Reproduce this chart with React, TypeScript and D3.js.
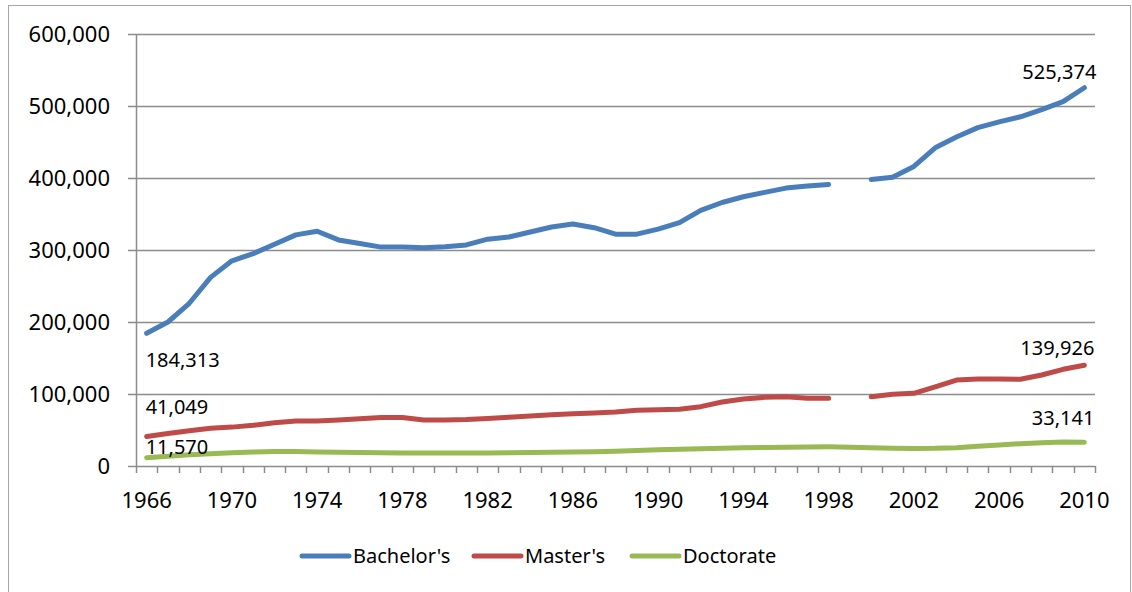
import React, { useEffect, useRef } from 'react';
import * as d3 from 'd3';

// categories (academic years)
const years = [
  1966, 1967, 1968, 1969, 1970, 1971, 1972, 1973, 1974, 1975, 1976, 1977, 1978, 1979, 1980,
  1981, 1982, 1983, 1984, 1985, 1986, 1987, 1988, 1989, 1990, 1991, 1992, 1993, 1994, 1995,
  1996, 1997, 1998, 1999, 2000, 2001, 2002, 2003, 2004, 2005, 2006, 2007, 2008, 2009, 2010,
];

const bachelors: (number | null)[] = [
  184313, 200000, 226000, 262000, 285000, 295000, 308000, 321000, 326000, 314000, 309000, 304000, 304000, 303000, 304500,
  307000, 315000, 318000, 325000, 332000, 336000, 331000, 322000, 322000, 329000, 338000, 355000, 366000, 374000, 380000,
  386000, 389000, 391000, null, 398000, 401000, 416000, 442000, 457000, 470000, 478000, 485000, 495000, 506000, 525374,
];

const masters: (number | null)[] = [
  41049, 45000, 49000, 52500, 54000, 56500, 60000, 62500, 62500, 64000, 65500, 67500, 67500, 64000, 64000,
  64500, 66000, 67600, 69500, 71300, 72700, 73600, 75000, 77300, 78200, 78700, 82400, 88900, 93000, 95400,
  96300, 94000, 94000, null, 96300, 99500, 100900, 110000, 119400, 120800, 120800, 120400, 126400, 134300, 139926,
];

const doctorates: (number | null)[] = [
  11570, 13500, 15500, 17000, 18500, 19500, 20000, 20000, 19500, 19000, 18800, 18500, 18200, 18000, 18000,
  18000, 18200, 18400, 18700, 19000, 19300, 19700, 20500, 21500, 22500, 23300, 24000, 24600, 25200, 25800,
  26200, 26500, 26600, 26200, 25500, 24800, 24300, 24500, 25500, 27300, 29200, 31000, 32300, 33200, 33141,
];

const yTicks = [0, 100000, 200000, 300000, 400000, 500000, 600000];
const xLabelYears = [1966, 1970, 1974, 1978, 1982, 1986, 1990, 1994, 1998, 2002, 2006, 2010];

const seriesList = [
  { name: "Bachelor's", values: bachelors, color: '#4A7EBB' },
  { name: "Master's", values: masters, color: '#BE4B48' },
  { name: 'Doctorate', values: doctorates, color: '#98B954' },
];

const FONT = '"Noto Sans", "Open Sans", sans-serif';

const App: React.FC = () => {
  const ref = useRef<SVGSVGElement>(null);

  useEffect(() => {
    if (!ref.current) return;
    const svg = d3.select(ref.current);
    svg.selectAll('*').remove();

    const W = 1132;
    const H = 592;
    const plot = { left: 136, right: 1095, top: 34, bottom: 466 };

    // outer chart border
    svg.append('rect')
      .attr('x', 8.5)
      .attr('y', 5.5)
      .attr('width', W - 10)
      .attr('height', H + 10)
      .attr('fill', 'white')
      .attr('stroke', '#a6a6a6')
      .attr('stroke-width', 1);

    const x = d3.scaleBand<number>()
      .domain(years)
      .range([plot.left, plot.right])
      .padding(0);

    const y = d3.scaleLinear()
      .domain([0, 600000])
      .range([plot.bottom, plot.top]);

    const fmt = d3.format(',');

    // gridlines + y tick marks
    svg.append('g')
      .selectAll('line')
      .data(yTicks.filter(t => t > 0))
      .enter()
      .append('line')
      .attr('x1', plot.left - 8)
      .attr('x2', plot.right)
      .attr('y1', d => Math.round(y(d)) + 0.5)
      .attr('y2', d => Math.round(y(d)) + 0.5)
      .attr('stroke', '#8c8c8c')
      .attr('stroke-width', 1.5);

    // y axis labels
    svg.append('g')
      .selectAll('text')
      .data(yTicks)
      .enter()
      .append('text')
      .attr('x', 110)
      .attr('y', d => y(d))
      .attr('dy', '0.36em')
      .attr('text-anchor', 'end')
      .attr('font-family', FONT)
      .attr('font-size', 22)
      .attr('fill', '#000')
      .text(d => fmt(d));

    // vertical axis
    svg.append('line')
      .attr('x1', plot.left + 0.5)
      .attr('x2', plot.left + 0.5)
      .attr('y1', plot.top)
      .attr('y2', plot.bottom)
      .attr('stroke', '#8c8c8c')
      .attr('stroke-width', 1.5);

    svg.append('line')
      .attr('x1', plot.left - 8)
      .attr('x2', plot.left)
      .attr('y1', plot.bottom + 0.5)
      .attr('y2', plot.bottom + 0.5)
      .attr('stroke', '#8c8c8c')
      .attr('stroke-width', 1.5);

    // horizontal axis
    svg.append('line')
      .attr('x1', plot.left)
      .attr('x2', plot.right)
      .attr('y1', plot.bottom + 0.5)
      .attr('y2', plot.bottom + 0.5)
      .attr('stroke', '#8c8c8c')
      .attr('stroke-width', 1.5);

    // x tick marks at category boundaries
    const boundaries = years.map(yr => x(yr)!).concat([plot.right]);
    svg.append('g')
      .selectAll('line')
      .data(boundaries)
      .enter()
      .append('line')
      .attr('x1', d => Math.round(d) + 0.5)
      .attr('x2', d => Math.round(d) + 0.5)
      .attr('y1', plot.bottom)
      .attr('y2', plot.bottom + 7)
      .attr('stroke', '#8c8c8c')
      .attr('stroke-width', 1.5);

    // x labels
    svg.append('g')
      .selectAll('text')
      .data(xLabelYears)
      .enter()
      .append('text')
      .attr('x', d => x(d)! + x.bandwidth() / 2)
      .attr('y', 508)
      .attr('text-anchor', 'middle')
      .attr('font-family', FONT)
      .attr('font-size', 22)
      .attr('fill', '#000')
      .text(d => d);

    // lines
    const line = d3.line<number | null>()
      .defined(d => d != null)
      .x((_, i) => x(years[i])! + x.bandwidth() / 2)
      .y(d => y(d as number));

    seriesList.forEach(s => {
      svg.append('path')
        .datum(s.values)
        .attr('d', line)
        .attr('fill', 'none')
        .attr('stroke', s.color)
        .attr('stroke-width', 5)
        .attr('stroke-linejoin', 'round')
        .attr('stroke-linecap', 'round');
    });

    // data labels at first and last points
    const first = years[0];
    const last = years[years.length - 1];
    const cx = (yr: number) => x(yr)! + x.bandwidth() / 2;
    const labels = [
      { text: fmt(bachelors[0]!), x: cx(first) - 1, y: y(bachelors[0]!) + 27, anchor: 'start' },
      { text: fmt(masters[0]!), x: cx(first) - 1, y: y(masters[0]!) - 30, anchor: 'start' },
      { text: fmt(doctorates[0]!), x: cx(first) - 1, y: y(doctorates[0]!) - 11, anchor: 'start' },
      { text: fmt(bachelors[44]!), x: cx(last) + 12, y: y(bachelors[44]!) - 16, anchor: 'end' },
      { text: fmt(masters[44]!), x: cx(last) + 10, y: y(masters[44]!) - 17, anchor: 'end' },
      { text: fmt(doctorates[44]!), x: cx(last) + 10, y: y(doctorates[44]!) - 24, anchor: 'end' },
    ];
    svg.append('g')
      .selectAll('text')
      .data(labels)
      .enter()
      .append('text')
      .attr('x', d => d.x)
      .attr('y', d => d.y)
      .attr('dy', '0.36em')
      .attr('text-anchor', d => d.anchor)
      .attr('font-family', FONT)
      .attr('font-size', 20)
      .attr('fill', '#000')
      .text(d => d.text);

    // legend
    const legendX = [302, 474, 632];
    const legend = svg.append('g');
    seriesList.forEach((s, i) => {
      legend.append('line')
        .attr('x1', legendX[i])
        .attr('x2', legendX[i] + 47)
        .attr('y1', 556)
        .attr('y2', 556)
        .attr('stroke', s.color)
        .attr('stroke-width', 5)
        .attr('stroke-linecap', 'round');
      legend.append('text')
        .attr('x', legendX[i] + 51)
        .attr('y', 556)
        .attr('dy', '0.36em')
        .attr('font-family', FONT)
        .attr('font-size', 20)
        .attr('fill', '#000')
        .text(s.name);
    });
  }, []);

  return (
    <svg
      ref={ref}
      width={1132}
      height={592}
      style={{ position: 'absolute', left: 0, top: 0, display: 'block', background: 'white' }}
    />
  );
};

export default App;
